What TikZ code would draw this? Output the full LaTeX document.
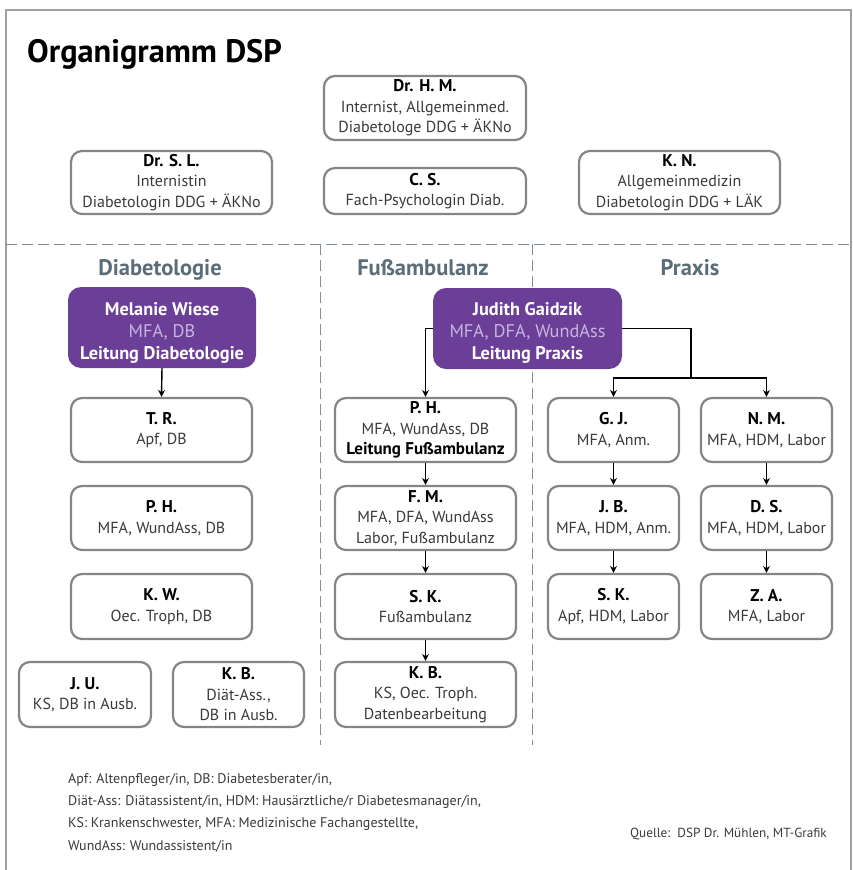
\documentclass[tikz,border=0pt]{standalone}
\usepackage{fontspec}
\setmainfont{PT Sans}
\usetikzlibrary{arrows.meta}
\definecolor{boxgray}{HTML}{858585}
\definecolor{txtgray}{HTML}{3A3A3A}
\definecolor{hdcol}{HTML}{5B6D79}
\definecolor{dashcol}{HTML}{7D909C}
\definecolor{purp}{HTML}{6B3F98}
\definecolor{lav}{HTML}{C8B4E0}
\definecolor{framecol}{HTML}{A0A0A0}
\newcommand\nmx[1]{{\color{black}\fontsize{17}{20}\selectfont\bfseries #1}}
\newcommand\wbx[1]{{\color{white}\bfseries #1}}
\tikzset{
  pbox/.style={draw=boxgray, line width=2.2pt, rounded corners=11pt, fill=white,
    align=center, inner sep=0pt, text=txtgray,
    font=\fontsize{16}{20.5}\selectfont},
  lead/.style={fill=purp, rounded corners=13pt, inner sep=0pt},
  leadtxt/.style={align=center, inner sep=0pt, text=lav,
    font=\fontsize{18.3}{21.8}\selectfont},
  dims/.style 2 args={minimum width=#1, minimum height=#2},
  arr/.style={line width=1.4pt, -{Stealth[length=7pt,width=7pt]}},
  conn/.style={line width=1.4pt},
  sep/.style={dashcol, line width=1pt, dash pattern=on 11pt off 5pt},
  hdr/.style={text=hdcol, font=\fontsize{22.5}{26}\selectfont\bfseries, anchor=base},
}
\begin{document}
\begin{tikzpicture}[x=1pt, y=-1pt]
\useasboundingbox (0,0) rectangle (852,870);
% frame
\draw[framecol, line width=1.3pt] (6,870) -- (6,10) -- (851,10) -- (851,870);
% title
\node[anchor=base west, inner sep=0pt, font=\fontsize{32.4}{36}\selectfont\bfseries] (title) at (27,62) {Organigramm DSP};
% top boxes
\node[pbox, dims={202pt}{64pt}] (dhm) at (425,108) {\nmx{Dr. H. M.}\\Internist, Allgemeinmed.\\Diabetologe DDG + ÄKNo};
\node[pbox, dims={201pt}{63pt}] (dsl) at (171.5,182.5) {\nmx{Dr. S. L.}\\Internistin\\Diabetologin DDG + ÄKNo};
\node[pbox, dims={202pt}{46pt}] (cs) at (425,191) {\nmx{C. S.}\\Fach-Psychologin Diab.};
\node[pbox, dims={201pt}{63pt}] (kn) at (679.5,182.5) {\nmx{K. N.}\\Allgemeinmedizin\\Diabetologin DDG + LÄK};
% separators
\draw[sep] (6,244) -- (851,244);
\draw[sep] (320,244) -- (320,745);
\draw[sep] (532,244) -- (532,745);
% headers
\node[hdr] (h1) at (160,275) {Diabetologie};
\node[hdr] (h2) at (423,275) {Fußambulanz};
\node[hdr] (h3) at (690,275) {Praxis};
% leads
\node[lead, dims={188pt}{81pt}] (mw) at (162,327.5) {};
\node[leadtxt] (mwt) at (162,333) {\wbx{Melanie Wiese}\\MFA, DB\\\wbx{Leitung Diabetologie}};
\node[lead, dims={189pt}{81pt}] (jg) at (527.5,328.5) {};
\node[leadtxt] (jgt) at (527.5,333) {\wbx{Judith Gaidzik}\\MFA, DFA, WundAss\\\wbx{Leitung Praxis}};
% Diabetologie column
\node[pbox, dims={181pt}{64pt}] (tr) at (161.5,430) {\nmx{T. R.}\\Apf, DB};
\node[pbox, dims={181pt}{64pt}] (ph1) at (161.5,518) {\nmx{P. H.}\\MFA, WundAss, DB};
\node[pbox, dims={181pt}{65pt}] (kw) at (161.5,606.5) {\nmx{K. W.}\\Oec. Troph, DB};
\node[pbox, dims={132pt}{65pt}] (ju) at (85,694.5) {\nmx{J. U.}\\KS, DB in Ausb.};
\node[pbox, dims={131pt}{65pt}] (kb1) at (238.5,694.5) {\nmx{K. B.}\\Diät-Ass.,\\DB in Ausb.};
% Fussambulanz column
\node[pbox, dims={181pt}{64pt}] (ph2) at (425.5,430) {\nmx{P. H.}\\MFA, WundAss, DB\\\nmx{Leitung Fußambulanz}};
\node[pbox, dims={181pt}{64pt}] (fm) at (425.5,518) {\nmx{F. M.}\\MFA, DFA, WundAss\\Labor, Fußambulanz};
\node[pbox, dims={181pt}{65pt}] (sk1) at (425.5,606.5) {\nmx{S. K.}\\Fußambulanz};
\node[pbox, dims={181pt}{65pt}] (kb2) at (425.5,694.5) {\nmx{K. B.}\\KS, Oec. Troph.\\Datenbearbeitung};
% Praxis columns
\node[pbox, dims={131pt}{64pt}] (gj) at (613.5,430) {\nmx{G. J.}\\MFA, Anm.};
\node[pbox, dims={131pt}{64pt}] (jb) at (613.5,518) {\nmx{J. B.}\\MFA, HDM, Anm.};
\node[pbox, dims={131pt}{65pt}] (sk2) at (613.5,606.5) {\nmx{S. K.}\\Apf, HDM, Labor};
\node[pbox, dims={131pt}{64pt}] (nm) at (766.5,430) {\nmx{N. M.}\\MFA, HDM, Labor};
\node[pbox, dims={131pt}{64pt}] (ds) at (766.5,518) {\nmx{D. S.}\\MFA, HDM, Labor};
\node[pbox, dims={131pt}{65pt}] (za) at (766.5,606.5) {\nmx{Z. A.}\\MFA, Labor};
% connectors
\draw[arr] (mw.south) -- (tr.north);
\draw[arr] (jg.west) -| (ph2.north);
\coordinate (split) at (691,378);
\draw[conn] (jg.east) -| (split);
\draw[arr] (split) -| (gj.north);
\draw[arr] (split) -| (nm.north);
\draw[arr] (ph2) -- (fm);
\draw[arr] (fm) -- (sk1);
\draw[arr] (sk1) -- (kb2);
\draw[arr] (gj) -- (jb);
\draw[arr] (jb) -- (sk2);
\draw[arr] (nm) -- (ds);
\draw[arr] (ds) -- (za);
% footer
\node[anchor=base west, inner sep=0pt, text=txtgray, align=left,
  font=\fontsize{14}{22.3}\selectfont] (legend) at (68,850)
  {Apf: Altenpfleger/in, DB: Diabetesberater/in,\\
   Diät-Ass: Diätassistent/in, HDM: Hausärztliche/r Diabetesmanager/in,\\
   KS: Krankenschwester, MFA: Medizinische Fachangestellte,\\
   WundAss: Wundassistent/in};
\node[anchor=base east, inner sep=0pt, text=txtgray, font=\fontsize{13.2}{15}\selectfont] (src) at (827,837) {Quelle:\ \ DSP Dr. Mühlen, MT-Grafik};
\end{tikzpicture}
\end{document}
